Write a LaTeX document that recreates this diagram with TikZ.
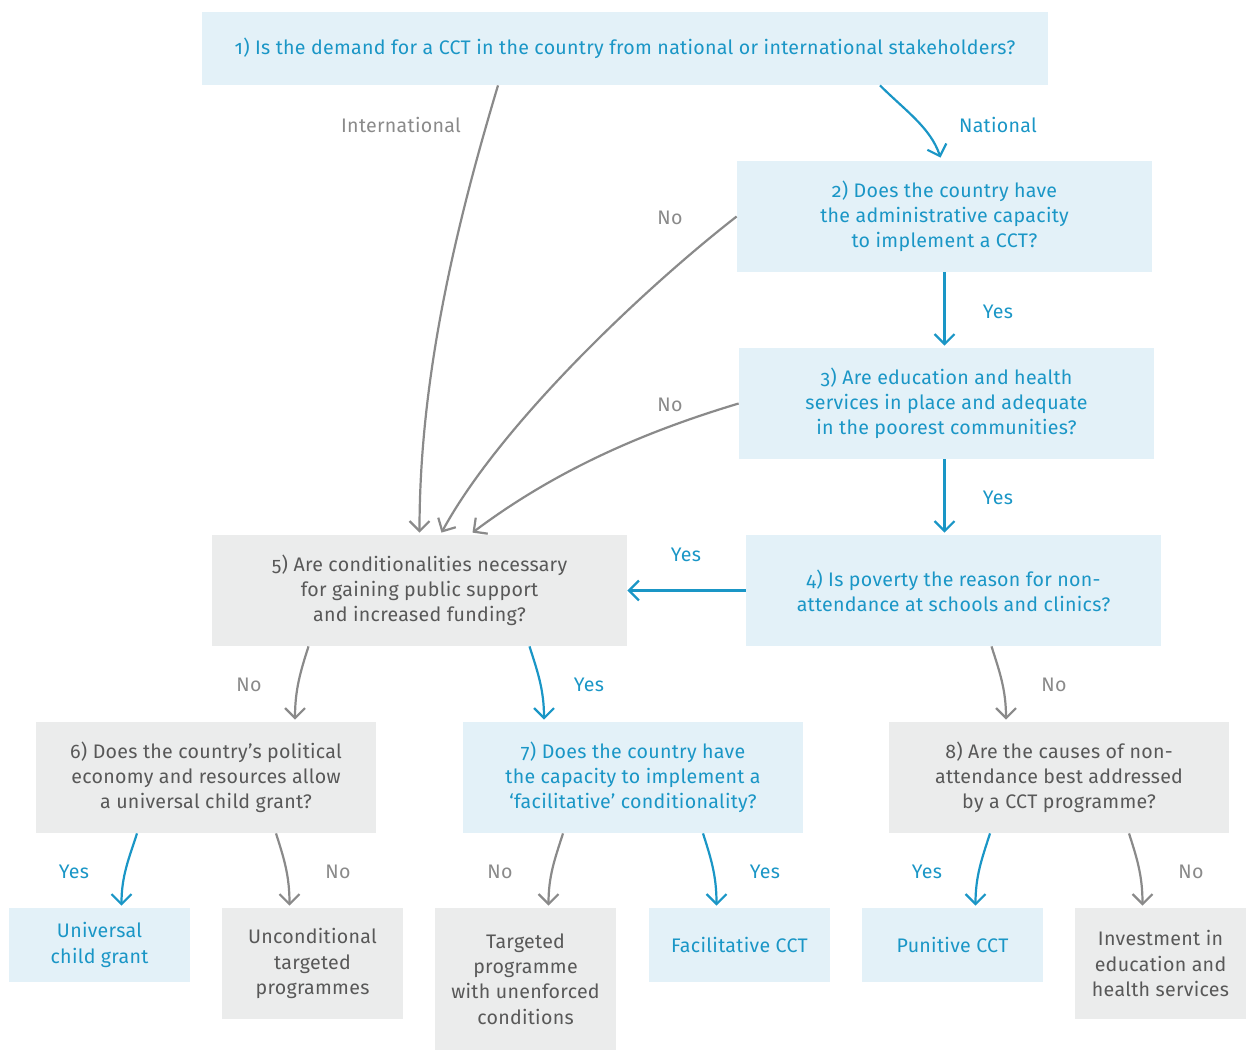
\documentclass[tikz,border=0pt]{standalone}
\usepackage{fontspec}
\setmainfont{Fira Sans}[Numbers=OldStyle, LetterSpace=1.5]
\usetikzlibrary{arrows.meta}

\definecolor{cctblue}{HTML}{1A96C6}
\definecolor{bluefill}{HTML}{E3F1F8}
\definecolor{greyfill}{HTML}{EBECEC}
\definecolor{greytext}{HTML}{585858}
\definecolor{greyline}{HTML}{8A8A8A}

\tikzset{
	qbox/.style={inner sep=0pt, align=center, font=\fontsize{9.8}{12.6}\selectfont},
	bluebox/.style={qbox, fill=bluefill, text=cctblue},
	greybox/.style={qbox, fill=greyfill, text=greytext},
	wide/.style={minimum width=207.5pt, minimum height=55.5pt},
	mid/.style={minimum width=170pt, minimum height=55.5pt},
	leaf/.style={minimum width=90.5pt},
	yesarrow/.style={draw=cctblue, line width=1.1pt, -{Straight Barb[length=5pt,width=10pt]}},
	noarrow/.style={draw=greyline, line width=1.1pt, -{Straight Barb[length=5pt,width=10pt]}},
	yeslbl/.style={text=cctblue, font=\fontsize{9.8}{12.6}\selectfont},
	nolbl/.style={text=greyline, font=\fontsize{9.8}{12.6}\selectfont}
}

\begin{document}
\begin{tikzpicture}[x=0.5pt, y=-0.5pt]
	\useasboundingbox (0,0) rectangle (1246,1050);

	% questions
	\node[bluebox, minimum width=423pt, minimum height=36.5pt] (q1) at (625,48.5) {1) Is the demand for a CCT in the country from national or international stakeholders?};
	\node[bluebox, wide] (q2) at (944.5,216.5) {2) Does the country have\\the administrative capacity\\to implement a CCT?};
	\node[bluebox, wide] (q3) at (946.5,403.5) {3) Are education and health\\services in place and adequate\\in the poorest communities?};
	\node[bluebox, wide] (q4) at (953.5,590.5) {4) Is poverty the reason for non-\\attendance at schools and clinics?};
	\node[greybox, wide] (q5) at (419.5,590.5) {5) Are conditionalities necessary\\for gaining public support\\and increased funding?};
	\node[greybox, mid] (q6) at (206,777.5) {6) Does the country’s political\\economy and resources allow\\a universal child grant?};
	\node[bluebox, mid] (q7) at (633,777.5) {7) Does the country have\\the capacity to implement a\\‘facilitative’ conditionality?};
	\node[greybox, mid] (q8) at (1059,777.5) {8) Are the causes of non-\\attendance best addressed\\by a CCT programme?};

	% outcomes
	\node[bluebox, leaf, minimum height=37pt] (ucg) at (99.5,945) {Universal\\child grant};
	\node[greybox, leaf, minimum height=55.5pt] (uct) at (312.5,963.5) {Unconditional\\targeted\\programmes};
	\node[greybox, leaf, minimum height=71pt] (tpu) at (525.5,979) {Targeted\\programme\\with unenforced\\conditions};
	\node[bluebox, leaf, minimum height=37pt] (fac) at (739.5,945) {Facilitative CCT};
	\node[bluebox, leaf, minimum height=37pt] (pun) at (952.5,945) {Punitive CCT};
	\node[greybox, minimum width=85.5pt, minimum height=55.5pt] (inv) at (1160.5,963.5) {Investment in\\education and\\health services};

	% connectors
	\draw[noarrow] ([shift={(-127,0)}]q1.south) .. controls +(-45,150) and +(0,-150) .. ([shift={(0,-2)}]q5.north);
	\draw[yesarrow] ([shift={(255,0)}]q1.south) .. controls +(25,25) and +(-10,-30) .. ([shift={(-4,-3)}]q2.north);
	\draw[noarrow] (q2.west) .. controls +(-90,70) and +(60,-110) .. ([shift={(22,-2)}]q5.north);
	\draw[noarrow] (q3.west) .. controls +(-100,30) and +(80,-60) .. ([shift={(53,-2)}]q5.north);
	\draw[yesarrow] (q2.south) -- ([shift={(-2,-2)}]q3.north);
	\draw[yesarrow] ([shift={(-2,0)}]q3.south) -- ([shift={(-9,-2)}]q4.north);
	\draw[yesarrow] (q4.west) -- (q5.east);
	\draw[noarrow] ([shift={(-111,0)}]q5.south) .. controls +(-8,25) and +(0,-30) .. ([shift={(89,-2)}]q6.north);
	\draw[yesarrow] ([shift={(110,0)}]q5.south) .. controls +(8,25) and +(0,-30) .. ([shift={(-89,-2)}]q7.north);
	\draw[noarrow] ([shift={(38,0)}]q4.south) .. controls +(8,25) and +(0,-30) .. ([shift={(-53,-2)}]q8.north);
	\draw[yesarrow] ([shift={(-69,0)}]q6.south) .. controls +(-8,25) and +(0,-30) .. ([shift={(22,-2)}]ucg.north);
	\draw[noarrow] ([shift={(70,0)}]q6.south) .. controls +(8,25) and +(0,-30) .. ([shift={(-23,-2)}]uct.north);
	\draw[noarrow] ([shift={(-70,0)}]q7.south) .. controls +(-8,25) and +(0,-30) .. ([shift={(23,-2)}]tpu.north);
	\draw[yesarrow] ([shift={(70,0)}]q7.south) .. controls +(8,25) and +(0,-30) .. ([shift={(-23,-2)}]fac.north);
	\draw[yesarrow] ([shift={(-69,0)}]q8.south) .. controls +(-8,25) and +(0,-30) .. ([shift={(23,-2)}]pun.north);
	\draw[noarrow] ([shift={(70,0)}]q8.south) .. controls +(8,25) and +(0,-30) .. ([shift={(-18,-2)}]inv.north);

	% labels
	\node[nolbl] (lint) at (401,125) {International};
	\node[yeslbl] (lnat) at (998,125) {National};
	\node[nolbl] (lno2) at (670,218) {No};
	\node[yeslbl] (lyes2) at (998,312) {Yes};
	\node[nolbl] (lno3) at (670,405) {No};
	\node[yeslbl] (lyes3) at (998,498) {Yes};
	\node[yeslbl] (lyes4) at (686,555) {Yes};
	\node[nolbl] (lno5) at (249,685) {No};
	\node[yeslbl] (lyes5) at (589,685) {Yes};
	\node[nolbl] (lno4) at (1054,685) {No};
	\node[yeslbl] (lyes6) at (74,872) {Yes};
	\node[nolbl] (lno6) at (338,872) {No};
	\node[nolbl] (lno7) at (500,872) {No};
	\node[yeslbl] (lyes7) at (765,872) {Yes};
	\node[yeslbl] (lyes8) at (927,872) {Yes};
	\node[nolbl] (lno8) at (1191,872) {No};
\end{tikzpicture}
\end{document}
